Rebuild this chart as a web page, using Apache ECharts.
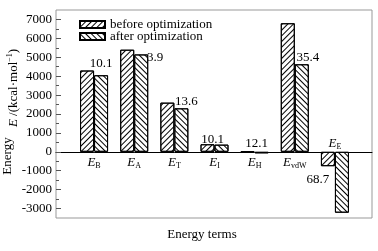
<!DOCTYPE html>
<html>
<head>
<meta charset="utf-8">
<script src="https://cdn.jsdelivr.net/npm/echarts@6/dist/echarts.min.js"></script>
<style>
  html, body { margin: 0; padding: 0; background: #fff; }
  #chart { width: 378px; height: 251px; }
</style>
</head>
<body>
<div id="chart"></div>
<script>
// energy terms (subscript of E) and the two series
const categories = ['B', 'A', 'T', 'I', 'H', 'vdW', 'E'];
const beforeOpt = [4300, 5400, 2600, 400, 30, 6800, -760];
const afterOpt = [4050, 5150, 2300, 380, -80, 4630, -3220];
const changeLabels = ['10.1', '3.9', '13.6', '10.1', '12.1', '35.4', '68.7'];
const yTicks = [-3000, -2000, -1000, 0, 1000, 2000, 3000, 4000, 5000, 6000, 7000];
const yMinorTicks = [-2500, -1500, -500, 500, 1500, 2500, 3500, 4500, 5500, 6500];

const FONT = 'Liberation Serif';
const Y_MIN = -3500;
const Y_MAX = 7500;
// where each change label sits relative to the top of the "after" bar
const labelOffsets = [[0, -5], [14, 10], [5, 0], [-9, 1], [-5, -2], [6, 0], [-24, 34]];

const hatch = (rot) => ({
  symbol: 'rect',
  symbolSize: 1,
  dashArrayX: [1, 0],
  dashArrayY: [1, 2.8],
  rotation: rot,
  color: '#000',
});

const barStyle = (rot) => ({
  color: '#fff',
  borderColor: '#000',
  borderWidth: 1,
  decal: hatch(rot),
});

const catRich = {
  e: { fontFamily: FONT, fontSize: 13, fontStyle: 'italic', lineHeight: 15, color: '#000' },
  s: { fontFamily: FONT, fontSize: 8, lineHeight: 8, verticalAlign: 'bottom', color: '#000' },
};

const chart = echarts.init(document.getElementById('chart'), null, { renderer: 'canvas' });

chart.setOption({
  animation: false,
  textStyle: { fontFamily: FONT },
  legend: {
    orient: 'vertical',
    left: 74,
    top: 13,
    itemWidth: 25,
    itemHeight: 7,
    itemGap: -1,
    icon: 'rect',
    textStyle: { fontFamily: FONT, fontSize: 13, color: '#000', lineHeight: 12 },
    data: ['before optimization', 'after optimization'],
  },
  grid: [
    // frame + y axis
    { left: 56, right: 6, top: 10, bottom: 33, show: true, borderColor: '#999', borderWidth: 1,
      containLabel: false, outerBoundsMode: 'none' },
    // bars
    { left: 74, right: 23, top: 10, bottom: 33, containLabel: false, outerBoundsMode: 'none' },
  ],
  xAxis: [
    {
      // zero line across the frame
      gridIndex: 0,
      type: 'value',
      min: 0,
      max: 1,
      axisLine: { show: true, onZero: true, onZeroAxisIndex: 0, lineStyle: { color: '#000', width: 1 } },
      axisTick: { show: false },
      axisLabel: { show: false },
      splitLine: { show: false },
    },
    {
      // axis title below the frame
      gridIndex: 0,
      type: 'value',
      min: 0,
      max: 1,
      position: 'bottom',
      axisLine: { show: false, onZero: false },
      axisTick: { show: false },
      axisLabel: { show: false },
      splitLine: { show: false },
      name: 'Energy terms',
      nameLocation: 'middle',
      nameGap: 10,
      nameTextStyle: { fontFamily: FONT, fontSize: 13, color: '#000', padding: [0, 24, 0, 0] },
    },
    {
      gridIndex: 1,
      type: 'category',
      data: categories,
      axisLine: { show: false },
      axisTick: { show: false },
      axisLabel: { show: false },
      splitLine: { show: false },
    },
  ],
  yAxis: [
    {
      gridIndex: 0,
      type: 'value',
      min: Y_MIN,
      max: Y_MAX,
      axisLine: { show: false },
      splitLine: { show: false },
      axisTick: { show: true, inside: true, length: 5, customValues: yTicks, lineStyle: { color: '#555' } },
      axisLabel: {
        customValues: yTicks,
        formatter: (v) => String(v),
        fontFamily: FONT,
        fontSize: 13,
        color: '#000',
        margin: 4,
      },
      name: '{i|E} /(kcal·mol{sup|−1})',
      nameLocation: 'middle',
      nameGap: 35,
      nameMoveOverlap: false,
      nameTextStyle: {
        padding: [0, 0, 0, 52],
        rich: {
          i: { fontFamily: FONT, fontSize: 13, fontStyle: 'italic', lineHeight: 15, color: '#000' },
          sup: { fontFamily: FONT, fontSize: 8, lineHeight: 8, verticalAlign: 'top', color: '#000' },
        },
        fontFamily: FONT, fontSize: 13, color: '#000',
      },
    },
    {
      gridIndex: 0,
      type: 'value',
      min: Y_MIN,
      max: Y_MAX,
      position: 'left',
      axisLine: { show: false },
      splitLine: { show: false },
      axisLabel: { show: false },
      axisTick: { show: true, inside: true, length: 3, customValues: yMinorTicks, lineStyle: { color: '#555' } },
      name: 'Energy',
      nameLocation: 'middle',
      nameGap: 41,
      nameMoveOverlap: false,
      nameTextStyle: { fontFamily: FONT, fontSize: 13, color: '#000', lineHeight: 15, padding: [0, 84, 0, 0] },
    },
    {
      gridIndex: 1,
      type: 'value',
      min: Y_MIN,
      max: Y_MAX,
      show: false,
    },
  ],
  series: [
    {
      name: 'before optimization',
      type: 'bar',
      xAxisIndex: 2,
      yAxisIndex: 2,
      barWidth: 14,
      barGap: '0%',
      itemStyle: barStyle(-Math.PI / 4),
      data: beforeOpt,
    },
    {
      name: 'after optimization',
      type: 'bar',
      xAxisIndex: 2,
      yAxisIndex: 2,
      barWidth: 14,
      barGap: '0%',
      itemStyle: barStyle(Math.PI / 4),
      label: {
        show: true,
        position: 'top',
        distance: 0,
        fontFamily: FONT,
        fontSize: 13,
        color: '#000',
      },
      data: afterOpt.map((v, i) => ({
        value: v,
        label: { formatter: changeLabels[i], offset: labelOffsets[i] },
      })),
    },
    {
      // category names sitting on the zero line (below, or above for the negative pair)
      type: 'scatter',
      xAxisIndex: 2,
      yAxisIndex: 2,
      symbolSize: 1,
      itemStyle: { color: '#fff', opacity: 1 },
      silent: true,
      label: {
        show: true,
        position: 'bottom',
        distance: 3,
        color: '#000',
        textBorderWidth: 0,
        formatter: (p) => `{e|E}{s|${p.name}}`,
        rich: catRich,
      },
      data: categories.map((c, i) => ({
        name: c,
        value: [c, 0],
        label: beforeOpt[i] < 0 && afterOpt[i] < 0 ? { position: 'top', distance: 0 } : undefined,
      })),
    },
  ],
});
</script>
</body>
</html>
